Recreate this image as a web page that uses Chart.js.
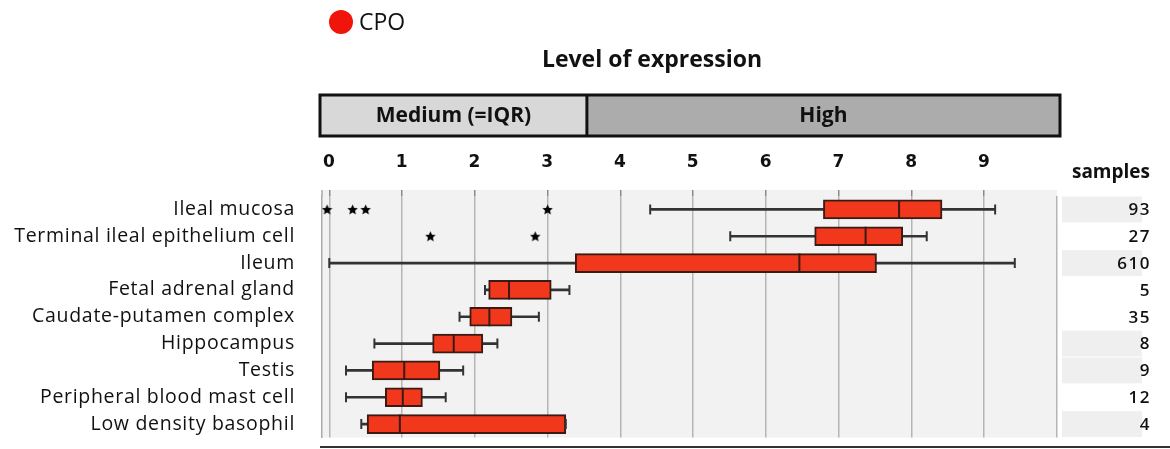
<!DOCTYPE html>
<html>
<head>
<meta charset="utf-8">
<script src="https://cdn.jsdelivr.net/npm/chart.js@4/dist/chart.umd.min.js"></script>
<style>
  html, body { margin: 0; padding: 0; background: #fff; }
  #wrap { width: 1170px; height: 449px; }
</style>
</head>
<body>
<div id="wrap"><canvas id="boxChart"></canvas></div>
<script>
// Expression values (level of expression)
const tissues = [
  "Ileal mucosa",
  "Terminal ileal epithelium cell",
  "Ileum",
  "Fetal adrenal gland",
  "Caudate-putamen complex",
  "Hippocampus",
  "Testis",
  "Peripheral blood mast cell",
  "Low density basophil"
];
const whiskerLow  = [4.41, 5.51, 0.00, 2.14, 1.79, 0.62, 0.23, 0.23, 0.44];
const q1          = [6.79, 6.67, 3.38, 2.19, 1.93, 1.42, 0.59, 0.77, 0.52];
const median      = [7.83, 7.37, 6.46, 2.47, 2.20, 1.71, 1.03, 1.01, 0.97];
const q3          = [8.42, 7.88, 7.52, 3.05, 2.51, 2.11, 1.52, 1.28, 3.25];
const whiskerHigh = [9.15, 8.21, 9.42, 3.30, 2.88, 2.31, 1.84, 1.60, 3.25];
const samples     = [93, 27, 610, 5, 35, 8, 9, 12, 4];

// outliers (stars)
const outlierTissue = ["Ileal mucosa", "Ileal mucosa", "Ileal mucosa", "Ileal mucosa",
                       "Terminal ileal epithelium cell", "Terminal ileal epithelium cell"];
const outlierValue  = [-0.03, 0.32, 0.50, 3.00, 1.39, 2.83];

const xTicks = [0, 1, 2, 3, 4, 5, 6, 7, 8, 9];
const levelNames = ["Medium (=IQR)", "High"];
const mediumHighBoundary = 3.54;
const geneName = "CPO";

const FONT = "'Open Sans', sans-serif";
const BOX_RED = "#f2381c";
const DARK = "#3a1a12";

// small filled star for the outliers
function makeStar(size) {
  const c = document.createElement("canvas");
  c.width = size; c.height = size;
  const g = c.getContext("2d");
  const cx = size / 2, cy = size / 2 + 0.5, ro = size / 2, ri = size / 4.2;
  g.beginPath();
  for (let i = 0; i < 10; i++) {
    const r = i % 2 === 0 ? ro : ri;
    const a = -Math.PI / 2 + i * Math.PI / 5;
    g.lineTo(cx + r * Math.cos(a), cy + r * Math.sin(a));
  }
  g.closePath();
  g.fillStyle = "#000";
  g.fill();
  return c;
}
const starImg = makeStar(11);

// background of the plot + header, level bar, samples column
const decorations = {
  id: "decorations",
  beforeDraw(chart) {
    const { ctx, chartArea: a } = chart;
    const y = chart.scales.y;
    ctx.save();
    // samples shading
    const shaded = [0, 2, 5, 6, 8];
    const pitch = (a.bottom - a.top) / tissues.length;
    ctx.fillStyle = "#efefef";
    shaded.forEach(i => {
      const cy = y.getPixelForValue(i);
      ctx.fillRect(a.right + 5, cy - pitch / 2 + 0.5, 80, pitch - 1);
    });
    // plot background
    ctx.fillStyle = "#f2f2f2";
    ctx.fillRect(a.left, a.top - 6, a.right - a.left, a.bottom - a.top + 6);
    ctx.strokeStyle = "#aaa";
    ctx.lineWidth = 1.5;
    ctx.beginPath();
    ctx.moveTo(a.left, a.top - 6); ctx.lineTo(a.left, a.top);
    ctx.stroke();
    ctx.restore();
    // the reference's axis text is set wide
    ctx.letterSpacing = "0.7px";
  },
  afterDraw(chart) {
    const { ctx, chartArea: a } = chart;
    const x = chart.scales.x, y = chart.scales.y;
    ctx.letterSpacing = "0px";
    ctx.save();

    // legend
    ctx.fillStyle = "#f0140a";
    ctx.beginPath();
    ctx.arc(341, 22, 12, 0, Math.PI * 2);
    ctx.fill();
    ctx.fillStyle = "#111";
    ctx.font = "23px " + FONT;
    ctx.textAlign = "left";
    ctx.textBaseline = "middle";
    ctx.fillText(geneName, 359, 23);

    // title
    ctx.font = "bold 23px " + FONT;
    ctx.textAlign = "center";
    ctx.fillText("Level of expression", 652, 60);

    // level bar
    const bl = a.left - 2, br = a.right + 3, bt = 95, bb = 136;
    const bx = x.getPixelForValue(mediumHighBoundary);
    ctx.fillStyle = "#d8d8d8";
    ctx.fillRect(bl, bt, bx - bl, bb - bt);
    ctx.fillStyle = "#acacac";
    ctx.fillRect(bx, bt, br - bx, bb - bt);
    ctx.strokeStyle = "#111";
    ctx.lineWidth = 3;
    ctx.strokeRect(bl, bt, br - bl, bb - bt);
    ctx.beginPath();
    ctx.moveTo(bx, bt); ctx.lineTo(bx, bb);
    ctx.stroke();
    ctx.fillStyle = "#111";
    ctx.font = "bold 21px " + FONT;
    ctx.fillText(levelNames[0], (bl + bx) / 2, (bt + bb) / 2 + 1);
    ctx.fillText(levelNames[1], (bx + br) / 2, (bt + bb) / 2 + 1);

    // samples column
    ctx.textAlign = "right";
    ctx.font = "bold 19px " + FONT;
    ctx.fillText("samples", 1150, 173);
    ctx.font = "600 17px " + FONT;
    ctx.letterSpacing = "1.5px";
    samples.forEach((s, i) => {
      ctx.fillText(String(s), 1151, y.getPixelForValue(i) + 1);
    });
    ctx.letterSpacing = "0px";

    // bottom rule
    ctx.strokeStyle = "#333";
    ctx.lineWidth = 2;
    ctx.beginPath();
    ctx.moveTo(a.left - 2, 447);
    ctx.lineTo(chart.width, 447);
    ctx.stroke();
    ctx.restore();
  }
};

new Chart(document.getElementById("boxChart"), {
  type: "bar",
  data: {
    labels: tissues,
    datasets: [
      {
        label: "whisker",
        data: tissues.map((t, i) => [whiskerLow[i], whiskerHigh[i]]),
        backgroundColor: "#333",
        barThickness: 2,
        grouped: false,
        order: 3
      },
      {
        label: geneName,
        data: tissues.map((t, i) => [q1[i], q3[i]]),
        backgroundColor: BOX_RED,
        borderColor: DARK,
        borderWidth: 2,
        borderSkipped: false,
        barThickness: 19,
        grouped: false,
        order: 2
      },
      {
        type: "scatter",
        label: "median",
        data: tissues.map((t, i) => ({ x: median[i], y: t })),
        pointStyle: "line",
        rotation: 90,
        radius: 9.5,
        borderWidth: 2,
        borderColor: DARK,
        order: 1
      },
      {
        type: "scatter",
        label: "caps",
        data: tissues.map((t, i) => ({ x: whiskerLow[i], y: t }))
          .concat(tissues.map((t, i) => ({ x: whiskerHigh[i], y: t }))),
        pointStyle: "line",
        rotation: 90,
        radius: 5,
        borderWidth: 2,
        borderColor: "#333",
        order: 1
      },
      {
        type: "scatter",
        label: "outliers",
        data: outlierValue.map((v, i) => ({ x: v, y: outlierTissue[i] })),
        pointStyle: starImg,
        order: 0
      }
    ]
  },
  options: {
    indexAxis: "y",
    responsive: true,
    maintainAspectRatio: false,
    animation: false,
    layout: { padding: { left: 0, right: 113, top: 0, bottom: 0 } },
    plugins: {
      legend: { display: false },
      tooltip: { enabled: false }
    },
    scales: {
      x: {
        type: "linear",
        position: "top",
        min: -0.1,
        max: 10,
        afterBuildTicks(scale) {
          scale.ticks = [-0.1].concat(xTicks).concat([10]).map(v => ({ value: v }));
        },
        afterFit(scale) { scale.height = 196; },
        ticks: {
          padding: 17,
          color: "#111",
          font: { family: "'DejaVu Sans', sans-serif", size: 17, weight: "bold" },
          callback: v => (xTicks.includes(v) ? String(v) : "")
        },
        grid: {
          color: ctx => (ctx.tick && ctx.tick.value === -0.1 ? "rgba(0,0,0,0)" : "#b5b5b5"),
          tickColor: ctx => (ctx.tick && xTicks.includes(ctx.tick.value) ? "#8a8a8a" : "rgba(0,0,0,0)"),
          lineWidth: 1.5,
          drawTicks: true,
          tickLength: 6
        },
        border: { display: false }
      },
      y: {
        type: "category",
        labels: tissues,
        afterFit(scale) {
          scale.width = 322;
          scale.paddingTop = 0;
          scale.paddingBottom = 0;
        },
        ticks: {
          padding: 27,
          color: "#111",
          font: { family: FONT, size: 19.5 }
        },
        grid: { display: false, drawTicks: false },
        border: { color: "#aaa", width: 1.5 }
      }
    }
  },
  plugins: [decorations]
});
</script>
</body>
</html>
